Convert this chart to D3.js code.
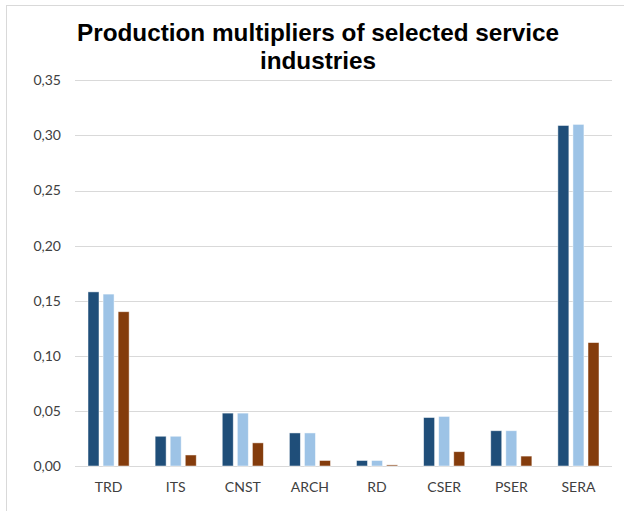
<!DOCTYPE html>
<html>
<head>
<meta charset="utf-8">
<script src="https://cdn.jsdelivr.net/npm/d3@7"></script>
<style>
  body { margin: 0; background: #fff; }
  svg { display: block; }
</style>
</head>
<body>
<div id="chart"></div>
<script>
'use strict';

// Données
const industries = ['TRD', 'ITS', 'CNST', 'ARCH', 'RD', 'CSER', 'PSER', 'SERA'];
const seriesA = [0.158, 0.027, 0.048, 0.030, 0.005, 0.044, 0.032, 0.309];
const seriesB = [0.156, 0.027, 0.048, 0.030, 0.005, 0.045, 0.032, 0.310];
const seriesC = [0.140, 0.010, 0.021, 0.005, 0.001, 0.013, 0.009, 0.112];
const yTicks = [0, 0.05, 0.10, 0.15, 0.20, 0.25, 0.30, 0.35];
const titleLines = ['Production multipliers of selected service', 'industries'];

const width = 624, height = 511;
const plot = { left: 75, right: 612, top: 80.3, bottom: 466 };
const colors = ['#1f4e79', '#9dc3e6', '#843c0c'];

const svg = d3.select('#chart').append('svg')
  .attr('width', width)
  .attr('height', height);

// cadre du graphique (coupé à droite et en bas)
svg.append('rect')
  .attr('x', 6.5).attr('y', 5.5)
  .attr('width', 640).attr('height', 540)
  .attr('fill', 'none')
  .attr('stroke', '#d9d9d9');

const x = d3.scaleBand()
  .domain(industries)
  .range([plot.left, plot.right]);

const y = d3.scaleLinear()
  .domain([0, 0.35])
  .range([plot.bottom, plot.top]);

const groups = ['a', 'b', 'c'];
const inner = d3.scaleBand()
  .domain(groups)
  .range([13, x.bandwidth() - 13])
  .paddingInner(0.27);

// Grille
svg.append('g')
  .selectAll('line')
  .data(yTicks)
  .join('line')
  .attr('x1', plot.left).attr('x2', plot.right)
  .attr('y1', d => Math.round(y(d)) + 0.5)
  .attr('y2', d => Math.round(y(d)) + 0.5)
  .attr('stroke', '#d9d9d9')
  .attr('stroke-width', 1);

// Étiquettes de l'axe Y
const fmt = d => d3.format('.2f')(d).replace('.', ',');
svg.append('g')
  .selectAll('text')
  .data(yTicks)
  .join('text')
  .attr('x', 61)
  .attr('y', d => y(d))
  .attr('dy', '0.35em')
  .attr('text-anchor', 'end')
  .attr('font-family', 'Lato, "Open Sans", sans-serif')
  .attr('font-size', 14)
  .attr('fill', '#404040')
  .text(fmt);

// Barres
const rows = industries.map((k, i) => ({
  key: k,
  vals: [seriesA[i], seriesB[i], seriesC[i]]
}));

const g = svg.append('g')
  .selectAll('g')
  .data(rows)
  .join('g')
  .attr('transform', d => `translate(${x(d.key)},0)`);

g.selectAll('rect')
  .data(d => d.vals.map((v, j) => ({ v, j })))
  .join('rect')
  .attr('x', d => inner(groups[d.j]))
  .attr('width', inner.bandwidth())
  .attr('y', d => y(d.v))
  .attr('height', d => y(0) - y(d.v))
  .attr('fill', d => colors[d.j])
  .attr('stroke', '#ffffff')
  .attr('stroke-opacity', 0.6)
  .attr('stroke-width', 0.8);

// Étiquettes de l'axe X
svg.append('g')
  .selectAll('text')
  .data(industries)
  .join('text')
  .attr('x', d => x(d) + x.bandwidth() / 2)
  .attr('y', 487)
  .attr('dy', '0.35em')
  .attr('text-anchor', 'middle')
  .attr('font-family', 'Lato, "Open Sans", sans-serif')
  .attr('font-size', 14)
  .attr('fill', '#404040')
  .text(d => d);

// Titre
svg.append('g')
  .selectAll('text')
  .data(titleLines)
  .join('text')
  .attr('x', 318)
  .attr('y', (d, i) => 41 + i * 28)
  .attr('text-anchor', 'middle')
  .attr('font-family', '"Liberation Sans", Arial, sans-serif')
  .attr('font-weight', 'bold')
  .attr('font-size', 24.3)
  .attr('fill', '#000')
  .text(d => d);
</script>
</body>
</html>
